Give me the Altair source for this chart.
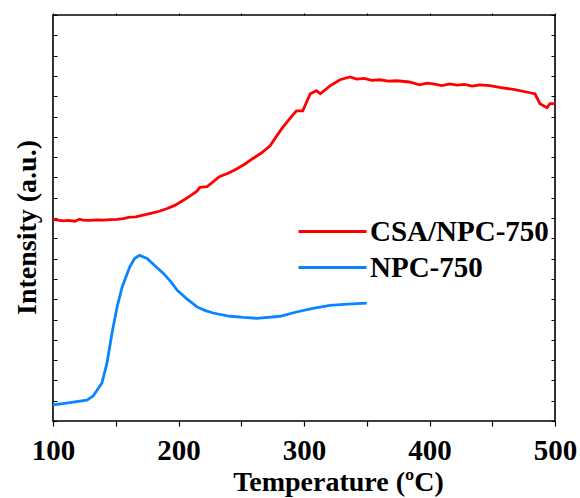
import altair as alt
import pandas as pd

# CSA/NPC-750 (red) — temperature (°C) and intensity (a.u., axis units 0-20)
csa_t = [100, 104, 108, 112, 117.5, 121, 124, 129.5, 135, 140, 146, 151, 156, 161, 166, 170, 177, 184, 191, 197,
         203.6, 209, 214.7, 217, 222.7, 226, 231.5, 233, 240, 246.6, 253, 259, 266, 273, 278, 283, 289, 294,
         299, 305, 310, 313, 320.7, 328.7, 336.7, 342, 348, 354, 360.6, 367, 374, 384, 392, 398, 403, 410, 416,
         422, 428, 434, 440, 448, 456, 468, 480, 484, 488, 493.6, 496, 500]
csa_i = [9.93, 9.90, 9.86, 9.88, 9.84, 9.94, 9.90, 9.88, 9.91, 9.90, 9.92, 9.93, 9.97, 10.04, 10.06, 10.12, 10.22,
         10.32, 10.47, 10.62, 10.86, 11.08, 11.32, 11.51, 11.55, 11.70, 11.99, 12.05, 12.22, 12.43, 12.66, 12.92,
         13.20, 13.56, 14.02, 14.46, 14.92, 15.28, 15.28, 16.12, 16.27, 16.12, 16.51, 16.81, 16.95, 16.84, 16.88,
         16.78, 16.81, 16.74, 16.76, 16.70, 16.56, 16.64, 16.61, 16.52, 16.61, 16.55, 16.58, 16.50, 16.56, 16.52,
         16.43, 16.32, 16.17, 16.12, 15.63, 15.43, 15.63, 15.63]

# NPC-750 (blue)
npc_t = [100, 113.5, 127, 132, 139, 143, 147, 151, 155, 161, 165, 169, 175, 181, 188, 194, 199,
         207, 214.7, 221, 227.5, 241, 252, 262.5, 281, 294, 307, 320.7, 335, 350]
npc_i = [0.79, 0.90, 1.03, 1.23, 1.87, 2.85, 4.32, 5.60, 6.58, 7.57, 8.00, 8.16, 8.01, 7.66, 7.27, 6.85, 6.44,
         6.00, 5.62, 5.45, 5.32, 5.16, 5.10, 5.06, 5.16, 5.37, 5.55, 5.70, 5.76, 5.81]

series_names = ["CSA/NPC-750", "NPC-750"]
series_colors = ["#ff0000", "#0a84ff"]

x_ticks = list(range(100, 501, 50))
y_ticks = list(range(0, 21))

df = pd.concat([
    pd.DataFrame({"T": csa_t, "I": csa_i, "series": series_names[0]}),
    pd.DataFrame({"T": npc_t, "I": npc_i, "series": series_names[1]}),
])

FONT = "Liberation Serif"
W, H = 502, 406

xscale = alt.Scale(domain=[100, 500], nice=False, zero=False)
yscale = alt.Scale(domain=[0, 20], nice=False, zero=False)

main = alt.Chart(df).mark_line(strokeWidth=2.8).encode(
    x=alt.X("T:Q", scale=xscale,
            axis=alt.Axis(orient="bottom", values=x_ticks,
                          labelExpr="datum.value % 100 == 0 ? datum.label : ''",
                          labelFlush=False,
                          tickSize=5, tickColor="black", tickWidth=1.2,
                          domain=False, grid=False,
                          labelFont=FONT, labelFontSize=29, labelFontWeight="bold",
                          labelColor="black", labelBaseline="alphabetic", labelPadding=33,
                          title="Temperature (ºC)", titleFont=FONT, titleFontSize=28,
                          titleFontWeight="bold", titleColor="black",
                          titleX=285, titleY=69, titleBaseline="alphabetic")),
    y=alt.Y("I:Q", scale=yscale,
            axis=alt.Axis(orient="left", ticks=False, labels=False, domain=False, grid=False,
                          title="Intensity (a.u.)", titleFont=FONT, titleFontSize=28,
                          titleFontWeight="bold", titleColor="black",
                          titleX=-18, titleY=212, titleBaseline="alphabetic")),
    color=alt.Color("series:N",
                    scale=alt.Scale(domain=series_names, range=series_colors),
                    legend=alt.Legend(orient="none", legendX=244, legendY=198, title=None,
                                      symbolType="M-1,0L3,0", symbolSize=1156, symbolStrokeWidth=3,
                                      labelFont=FONT, labelFontSize=29, labelFontWeight="bold",
                                      labelColor="black", labelOffset=36, rowPadding=2,
                                      labelLimit=400)),
)

ghost1 = alt.Chart(df).mark_line(strokeOpacity=0).encode(
    x=alt.X("T:Q", scale=xscale,
            axis=alt.Axis(orient="top", values=x_ticks, labels=False, tickSize=2,
                          tickColor="black", domain=False, grid=False, title=None)),
    y=alt.Y("I:Q", scale=yscale,
            axis=alt.Axis(orient="right", offset=-W, values=y_ticks, labels=False, tickSize=4,
                          tickColor="black", tickWidth=1, domain=False, grid=False, title=None)),
    detail="series:N",
)

ghost2 = alt.Chart(df).mark_line(strokeOpacity=0).encode(
    x=alt.X("T:Q", scale=xscale, axis=None),
    y=alt.Y("I:Q", scale=yscale,
            axis=alt.Axis(orient="left", offset=-W, values=y_ticks, labels=False, tickSize=4,
                          tickColor="black", tickWidth=1, domain=False, grid=False, title=None)),
    detail="series:N",
)

chart = alt.layer(main, ghost1, ghost2).resolve_axis(x="independent", y="independent").properties(
    width=W, height=H,
    autosize=alt.AutoSizeParams(type="none"),
    padding={"left": 53, "top": 15, "right": 25, "bottom": 77},
    background="white",
).configure_view(stroke="black", strokeWidth=1.6)

chart.save("out.html", embed_options={"renderer": "svg", "actions": False})
